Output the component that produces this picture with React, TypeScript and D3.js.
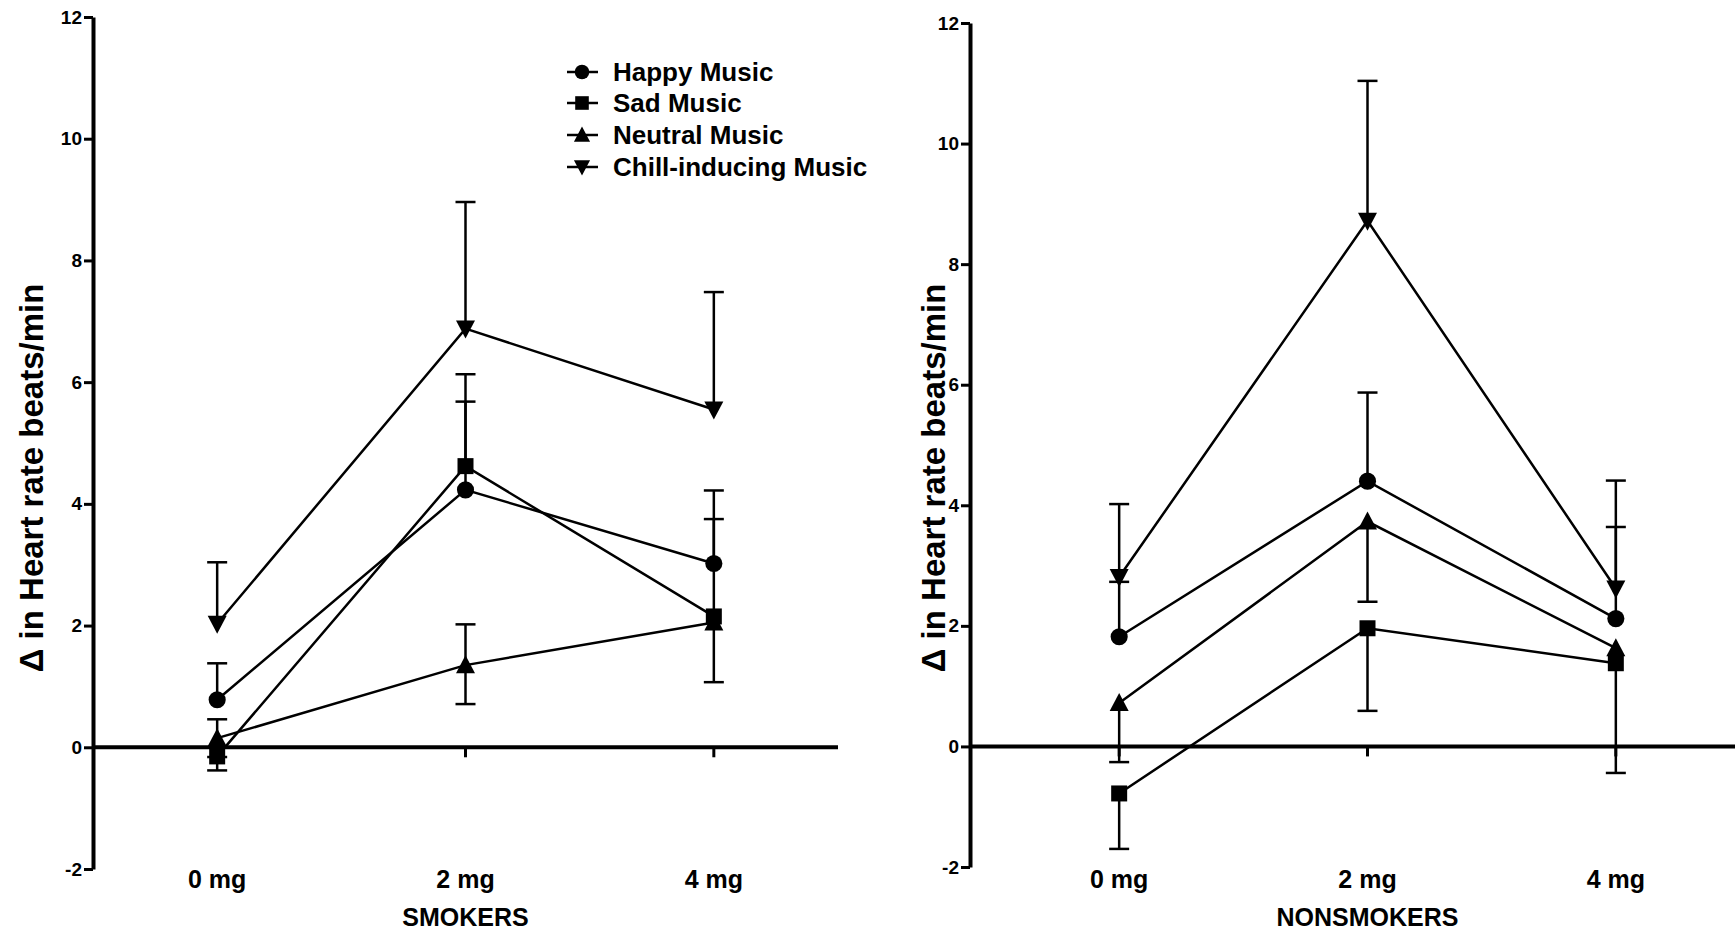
import React, { useEffect, useRef } from "react";
import * as d3 from "d3";

// x categories and series
const doses = ["0 mg", "2 mg", "4 mg"];
const seriesNames = ["Happy Music", "Sad Music", "Neutral Music", "Chill-inducing Music"];
const seriesShapes = ["circle", "square", "triangle", "triangleDown"];
const yTicks = [-2, 0, 2, 4, 6, 8, 10, 12];

// smokers: rows = happy, sad, neutral, chill
const smokersMean = [
  [0.78, 4.23, 3.02],
  [-0.15, 4.62, 2.15],
  [0.15, 1.35, 2.05],
  [2.03, 6.88, 5.55],
];
const smokersErrUp = [
  [0.6, 1.45, 1.2],
  [0, 1.51, 1.6],
  [0.31, 0.67, 0],
  [1.01, 2.08, 1.93],
];
const smokersErrDown = [
  [0, 0, 0],
  [0.23, 0, 0],
  [0.31, 0.64, 0.98],
  [0, 0, 0],
];

// nonsmokers
const nonsmokersMean = [
  [1.82, 4.4, 2.12],
  [-0.78, 1.96, 1.38],
  [0.72, 3.73, 1.63],
  [2.81, 8.72, 2.62],
];
const nonsmokersErrUp = [
  [0.91, 1.47, 1.52],
  [0, 0, 0],
  [0, 0, 0],
  [1.21, 2.32, 1.79],
];
const nonsmokersErrDown = [
  [0, 0, 0],
  [0.92, 1.37, 1.82],
  [0.98, 1.33, 0],
  [0, 0, 0],
];

const FONT = "'Liberation Sans', Arial, sans-serif";

const markerPath = (shape: string) => {
  if (shape === "circle") return d3.symbol(d3.symbolCircle, 230)();
  if (shape === "square") return "M-8,-8H8V8H-8Z";
  if (shape === "triangle") return "M0,-10L9.5,8L-9.5,8Z";
  return "M0,10L9.5,-8L-9.5,-8Z";
};

const App = () => {
  const svgRef = useRef<SVGSVGElement>(null);

  useEffect(() => {
    const svg = d3.select(svgRef.current);
    svg.selectAll("*").remove();

    const panels = [
      {
        axisX: 93,
        axisEnd: 838,
        xRange: [93, 838],
        yRange: [869, 17],
        title: "SMOKERS",
        mean: smokersMean,
        up: smokersErrUp,
        down: smokersErrDown,
      },
      {
        axisX: 970,
        axisEnd: 1735,
        xRange: [995, 1740],
        yRange: [867, 23],
        title: "NONSMOKERS",
        mean: nonsmokersMean,
        up: nonsmokersErrUp,
        down: nonsmokersErrDown,
      },
    ];

    panels.forEach((p) => {
      const g = svg.append("g");
      const x = d3.scalePoint().domain(doses).range(p.xRange).padding(0.5);
      const y = d3.scaleLinear().domain([-2, 12]).range(p.yRange);
      const x0 = p.axisX;

      // y axis
      const yAxis = g
        .append("g")
        .attr("transform", `translate(${x0},0)`)
        .call(
          d3
            .axisLeft(y)
            .tickValues(yTicks)
            .tickSize(9)
            .tickSizeOuter(0)
            .tickPadding(2)
            .tickFormat((d) => String(d))
        );
      yAxis.select(".domain").attr("stroke", "#000").attr("stroke-width", 4);
      yAxis.selectAll(".tick line").attr("stroke", "#000").attr("stroke-width", 3);
      yAxis
        .selectAll(".tick text")
        .attr("fill", "#000")
        .style("font-family", FONT)
        .style("font-size", "19px")
        .style("font-weight", "bold");

      // x axis at zero
      g.append("line")
        .attr("x1", x0)
        .attr("x2", p.axisEnd)
        .attr("y1", y(0))
        .attr("y2", y(0))
        .attr("stroke", "#000")
        .attr("stroke-width", 4);
      g.selectAll(".xtick")
        .data(doses)
        .enter()
        .append("line")
        .attr("x1", (d) => x(d)!)
        .attr("x2", (d) => x(d)!)
        .attr("y1", y(0))
        .attr("y2", y(0) + 10)
        .attr("stroke", "#000")
        .attr("stroke-width", 3);

      // dose labels below the plot
      g.selectAll(".dose")
        .data(doses)
        .enter()
        .append("text")
        .attr("x", (d) => x(d)!)
        .attr("y", 888)
        .attr("text-anchor", "middle")
        .style("font-family", FONT)
        .style("font-size", "25px")
        .style("font-weight", "bold")
        .text((d) => d);

      g.append("text")
        .attr("x", x("2 mg")!)
        .attr("y", 926)
        .attr("text-anchor", "middle")
        .style("font-family", FONT)
        .style("font-size", "25px")
        .style("font-weight", "bold")
        .text(p.title);

      // y title
      g.append("text")
        .attr("transform", `translate(${p.xRange[0] - 50},478) rotate(-90)`)
        .attr("text-anchor", "middle")
        .style("font-family", FONT)
        .style("font-size", "33px")
        .style("font-weight", "bold")
        .text("\u0394 in Heart rate beats/min");

      // error bars
      p.mean.forEach((row, s) => {
        row.forEach((v, i) => {
          const cx = x(doses[i])!;
          const parts: [number, number][] = [];
          if (p.up[s][i] > 0) parts.push([v, v + p.up[s][i]]);
          if (p.down[s][i] > 0) parts.push([v, v - p.down[s][i]]);
          parts.forEach(([a, b]) => {
            g.append("line")
              .attr("x1", cx)
              .attr("x2", cx)
              .attr("y1", y(a))
              .attr("y2", y(b))
              .attr("stroke", "#000")
              .attr("stroke-width", 2.5);
            g.append("line")
              .attr("x1", cx - 10)
              .attr("x2", cx + 10)
              .attr("y1", y(b))
              .attr("y2", y(b))
              .attr("stroke", "#000")
              .attr("stroke-width", 2.5);
          });
        });
      });

      // lines
      const line = d3
        .line<number>()
        .x((_, i) => x(doses[i])!)
        .y((d) => y(d));
      p.mean.forEach((row) => {
        g.append("path")
          .attr("d", line(row))
          .attr("fill", "none")
          .attr("stroke", "#000")
          .attr("stroke-width", 2.5);
      });

      // markers
      p.mean.forEach((row, s) => {
        g.selectAll(null)
          .data(row)
          .enter()
          .append("path")
          .attr("d", markerPath(seriesShapes[s]))
          .attr("transform", (d, i) => `translate(${x(doses[i])},${y(d)})`)
          .attr("fill", "#000");
      });
    });

    // legend
    const legend = svg.append("g");
    const rowsY = [72, 103, 135, 167];
    seriesNames.forEach((name, s) => {
      const ly = rowsY[s];
      legend
        .append("line")
        .attr("x1", 567)
        .attr("x2", 598)
        .attr("y1", ly)
        .attr("y2", ly)
        .attr("stroke", "#000")
        .attr("stroke-width", 2.5);
      legend
        .append("path")
        .attr("d", markerPath(seriesShapes[s]))
        .attr("transform", `translate(582,${ly}) scale(0.85)`)
        .attr("fill", "#000");
      legend
        .append("text")
        .attr("x", 613)
        .attr("y", ly + 9)
        .style("font-family", FONT)
        .style("font-size", "26px")
        .style("font-weight", "bold")
        .text(name);
    });
  }, []);

  return (
    <svg
      ref={svgRef}
      width={1735}
      height={935}
      style={{ position: "absolute", left: 0, top: 0, background: "#fff" }}
    />
  );
};

export default App;
